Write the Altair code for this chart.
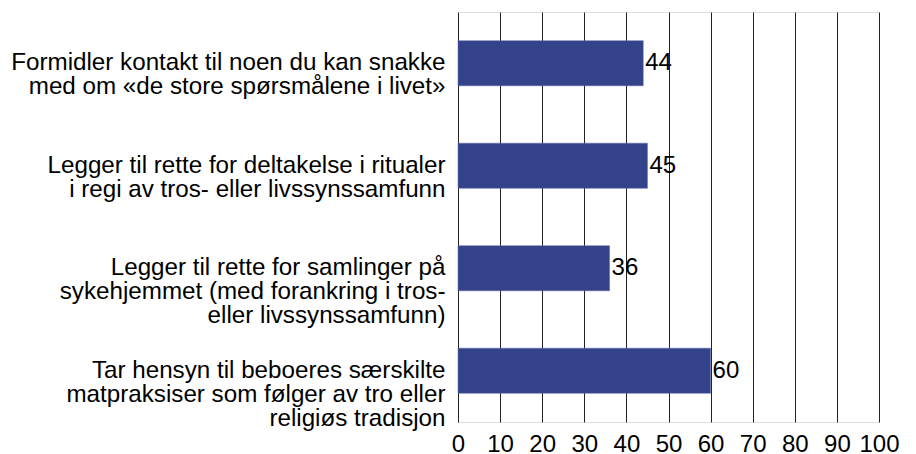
import altair as alt
import pandas as pd

categories = [
    "Formidler kontakt til noen du kan snakke|med om «de store spørsmålene i livet»",
    "Legger til rette for deltakelse i ritualer|i regi av tros- eller livssynssamfunn",
    "Legger til rette for samlinger på|sykehjemmet (med forankring i tros-|eller livssynssamfunn)",
    "Tar hensyn til beboeres særskilte|matpraksiser som følger av tro eller|religiøs tradisjon",
]
values = [44, 45, 36, 60]
x_ticks = list(range(0, 101, 10))

df = pd.DataFrame({"cat": categories, "val": values})

y = alt.Y("cat:N", sort=categories, title=None,
          scale=alt.Scale(paddingInner=0.56, paddingOuter=0.28),
          axis=alt.Axis(labelExpr="split(datum.label, '|')", labelFontSize=24.2,
                        labelFont="Liberation Sans", labelColor="#000000",
                        labelLineHeight=24, ticks=False, domain=False,
                        labelPadding=13, labelLimit=460, grid=False))
x = alt.X("val:Q", title=None,
          scale=alt.Scale(domain=[0, 100], nice=False),
          axis=alt.Axis(values=x_ticks, labelFontSize=24, labelFont="Liberation Sans",
                        labelColor="#000000", grid=True, gridColor="#222222",
                        gridWidth=1, gridOpacity=1, domain=False, ticks=False,
                        labelPadding=10, labelOverlap=False, labelFlush=False))

bars = alt.Chart(df).mark_bar(color="#344389", stroke="#5a67a8", strokeWidth=0.5).encode(x=x, y=y)
labels = alt.Chart(df).mark_text(align="left", baseline="middle", dx=2, fontSize=24,
                                 font="Liberation Sans", color="#000000").encode(
    x="val:Q", y=alt.Y("cat:N", sort=categories), text="val:Q")

chart = (bars + labels).properties(
    width=421, height=410,
    autosize=alt.AutoSizeParams(type="none"),
    padding={"left": 450, "top": 4, "right": 28, "bottom": 32},
).configure_view(stroke=None).configure(background="white")

chart.save("out.html", embed_options={"renderer": "svg", "actions": False})
